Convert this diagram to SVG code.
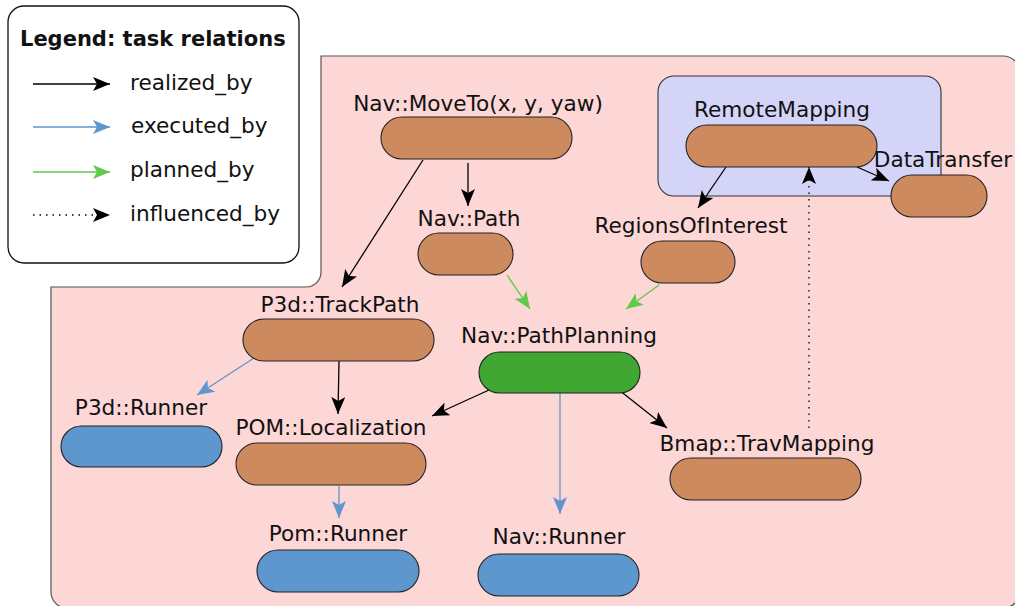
<svg xmlns="http://www.w3.org/2000/svg" width="1015" height="606" viewBox="0 0 1015 606">
<style>
text{font-family:"DejaVu Sans","Liberation Sans",sans-serif;font-size:21.6px;fill:#111;}
.lbl{text-anchor:middle;}
.title{font-weight:bold;font-size:21px;}
.cap{stroke:#222;stroke-width:1.1;}
.brown{fill:#cd8a5f;}
.blue{fill:#5e96ce;}
.green{fill:#40a832;}
.e{fill:none;stroke-width:1.3;}
.k{stroke:#000;marker-end:url(#ak);}
.b{stroke:#5e96ce;marker-end:url(#ab);}
.g{stroke:#5fc94a;marker-end:url(#ag);}
.d{stroke:#000;stroke-dasharray:1.5 5;marker-end:url(#ak);}
</style>
<defs>
<marker id="ak" markerUnits="userSpaceOnUse" markerWidth="18" markerHeight="14" refX="17" refY="7" orient="auto"><path d="M0,0 L17,7 L0,14 L4,7 z" fill="#000"/></marker>
<marker id="ab" markerUnits="userSpaceOnUse" markerWidth="18" markerHeight="14" refX="17" refY="7" orient="auto"><path d="M0,0 L17,7 L0,14 L4,7 z" fill="#5e96ce"/></marker>
<marker id="ag" markerUnits="userSpaceOnUse" markerWidth="18" markerHeight="14" refX="17" refY="7" orient="auto"><path d="M0,0 L17,7 L0,14 L4,7 z" fill="#5fc94a"/></marker>
</defs>
<rect width="1015" height="606" fill="#fff"/>
<!-- pink region -->
<path id="region" d="M321,56 L1003,56 A17,17 0 0 1 1020,73 L1020,591 A17,17 0 0 1 1003,608 L67,608 A16,16 0 0 1 51,592 L51,287 L306,287 A15,15 0 0 0 321,272 Z" fill="#fdd6d6" stroke="#555" stroke-width="1.2"/>
<!-- legend -->
<g id="legend">
<rect x="8" y="6" width="291" height="257" rx="16" fill="#fff" stroke="#111" stroke-width="1.3"/>
<text class="title" x="20" y="46">Legend: task relations</text>
<line class="e k" x1="33" y1="84" x2="110" y2="84"/>
<text x="130" y="90">realized_by</text>
<line class="e b" x1="33" y1="127" x2="110" y2="127"/>
<text x="131" y="133">executed_by</text>
<line class="e g" x1="33" y1="172" x2="110" y2="172"/>
<text x="130" y="177">planned_by</text>
<line class="e d" x1="33" y1="215" x2="110" y2="215"/>
<text x="130" y="221">influenced_by</text>
</g>
<!-- group box -->
<rect id="remote-group" x="658" y="76" width="283" height="120" rx="16" fill="#d4d4f8" stroke="#333" stroke-width="1.1"/>
<!-- connectors -->
<g id="connectors">
<line class="e k" x1="423" y1="160" x2="342" y2="287"/>
<line class="e k" x1="468" y1="163" x2="468" y2="206"/>
<line class="e g" x1="507" y1="275" x2="530" y2="309"/>
<line class="e g" x1="659" y1="285" x2="626" y2="309"/>
<line class="e k" x1="726" y1="167" x2="698" y2="208"/>
<line class="e k" x1="857" y1="167" x2="889" y2="181"/>
<line class="e d" x1="809" y1="428" x2="809" y2="167"/>
<line class="e b" x1="254" y1="358" x2="197" y2="395"/>
<line class="e k" x1="339" y1="361" x2="338" y2="414"/>
<line class="e k" x1="489" y1="390" x2="432" y2="416"/>
<line class="e b" x1="560" y1="393" x2="560" y2="514"/>
<line class="e k" x1="619" y1="390" x2="667" y2="428"/>
<line class="e b" x1="339" y1="486" x2="339" y2="518"/>
</g>
<!-- nodes -->
<g id="moveto"><rect class="cap brown" x="381" y="117" width="191" height="42" rx="21"/><text class="lbl" x="478" y="111">Nav::MoveTo(x, y, yaw)</text></g>
<g id="navpath"><rect class="cap brown" x="418" y="233" width="95" height="42" rx="21"/><text class="lbl" x="469" y="226">Nav::Path</text></g>
<g id="regions"><rect class="cap brown" x="641" y="241" width="94" height="42" rx="21"/><text class="lbl" x="691" y="233">RegionsOfInterest</text></g>
<g id="remotemapping"><rect class="cap brown" x="686" y="125" width="191" height="42" rx="21"/><text class="lbl" x="782" y="117">RemoteMapping</text></g>
<g id="datatransfer"><rect class="cap brown" x="891" y="175" width="96" height="42" rx="21"/><text class="lbl" x="943" y="167">DataTransfer</text></g>
<g id="trackpath"><rect class="cap brown" x="243" y="319" width="191" height="42" rx="21"/><text class="lbl" x="340" y="312">P3d::TrackPath</text></g>
<g id="pathplanning"><rect class="cap green" x="479" y="352" width="161" height="41" rx="20.5"/><text class="lbl" x="559" y="343">Nav::PathPlanning</text></g>
<g id="p3drunner"><rect class="cap blue" x="61" y="426" width="161" height="41" rx="20.5"/><text class="lbl" x="141" y="415">P3d::Runner</text></g>
<g id="localization"><rect class="cap brown" x="236" y="443" width="190" height="42" rx="21"/><text class="lbl" x="331" y="435">POM::Localization</text></g>
<g id="travmapping"><rect class="cap brown" x="670" y="458" width="191" height="42" rx="21"/><text class="lbl" x="767" y="451">Bmap::TravMapping</text></g>
<g id="pomrunner"><rect class="cap blue" x="257" y="550" width="162" height="42" rx="21"/><text class="lbl" x="338" y="541">Pom::Runner</text></g>
<g id="navrunner"><rect class="cap blue" x="478" y="554" width="161" height="42" rx="21"/><text class="lbl" x="559" y="544">Nav::Runner</text></g>
</svg>
